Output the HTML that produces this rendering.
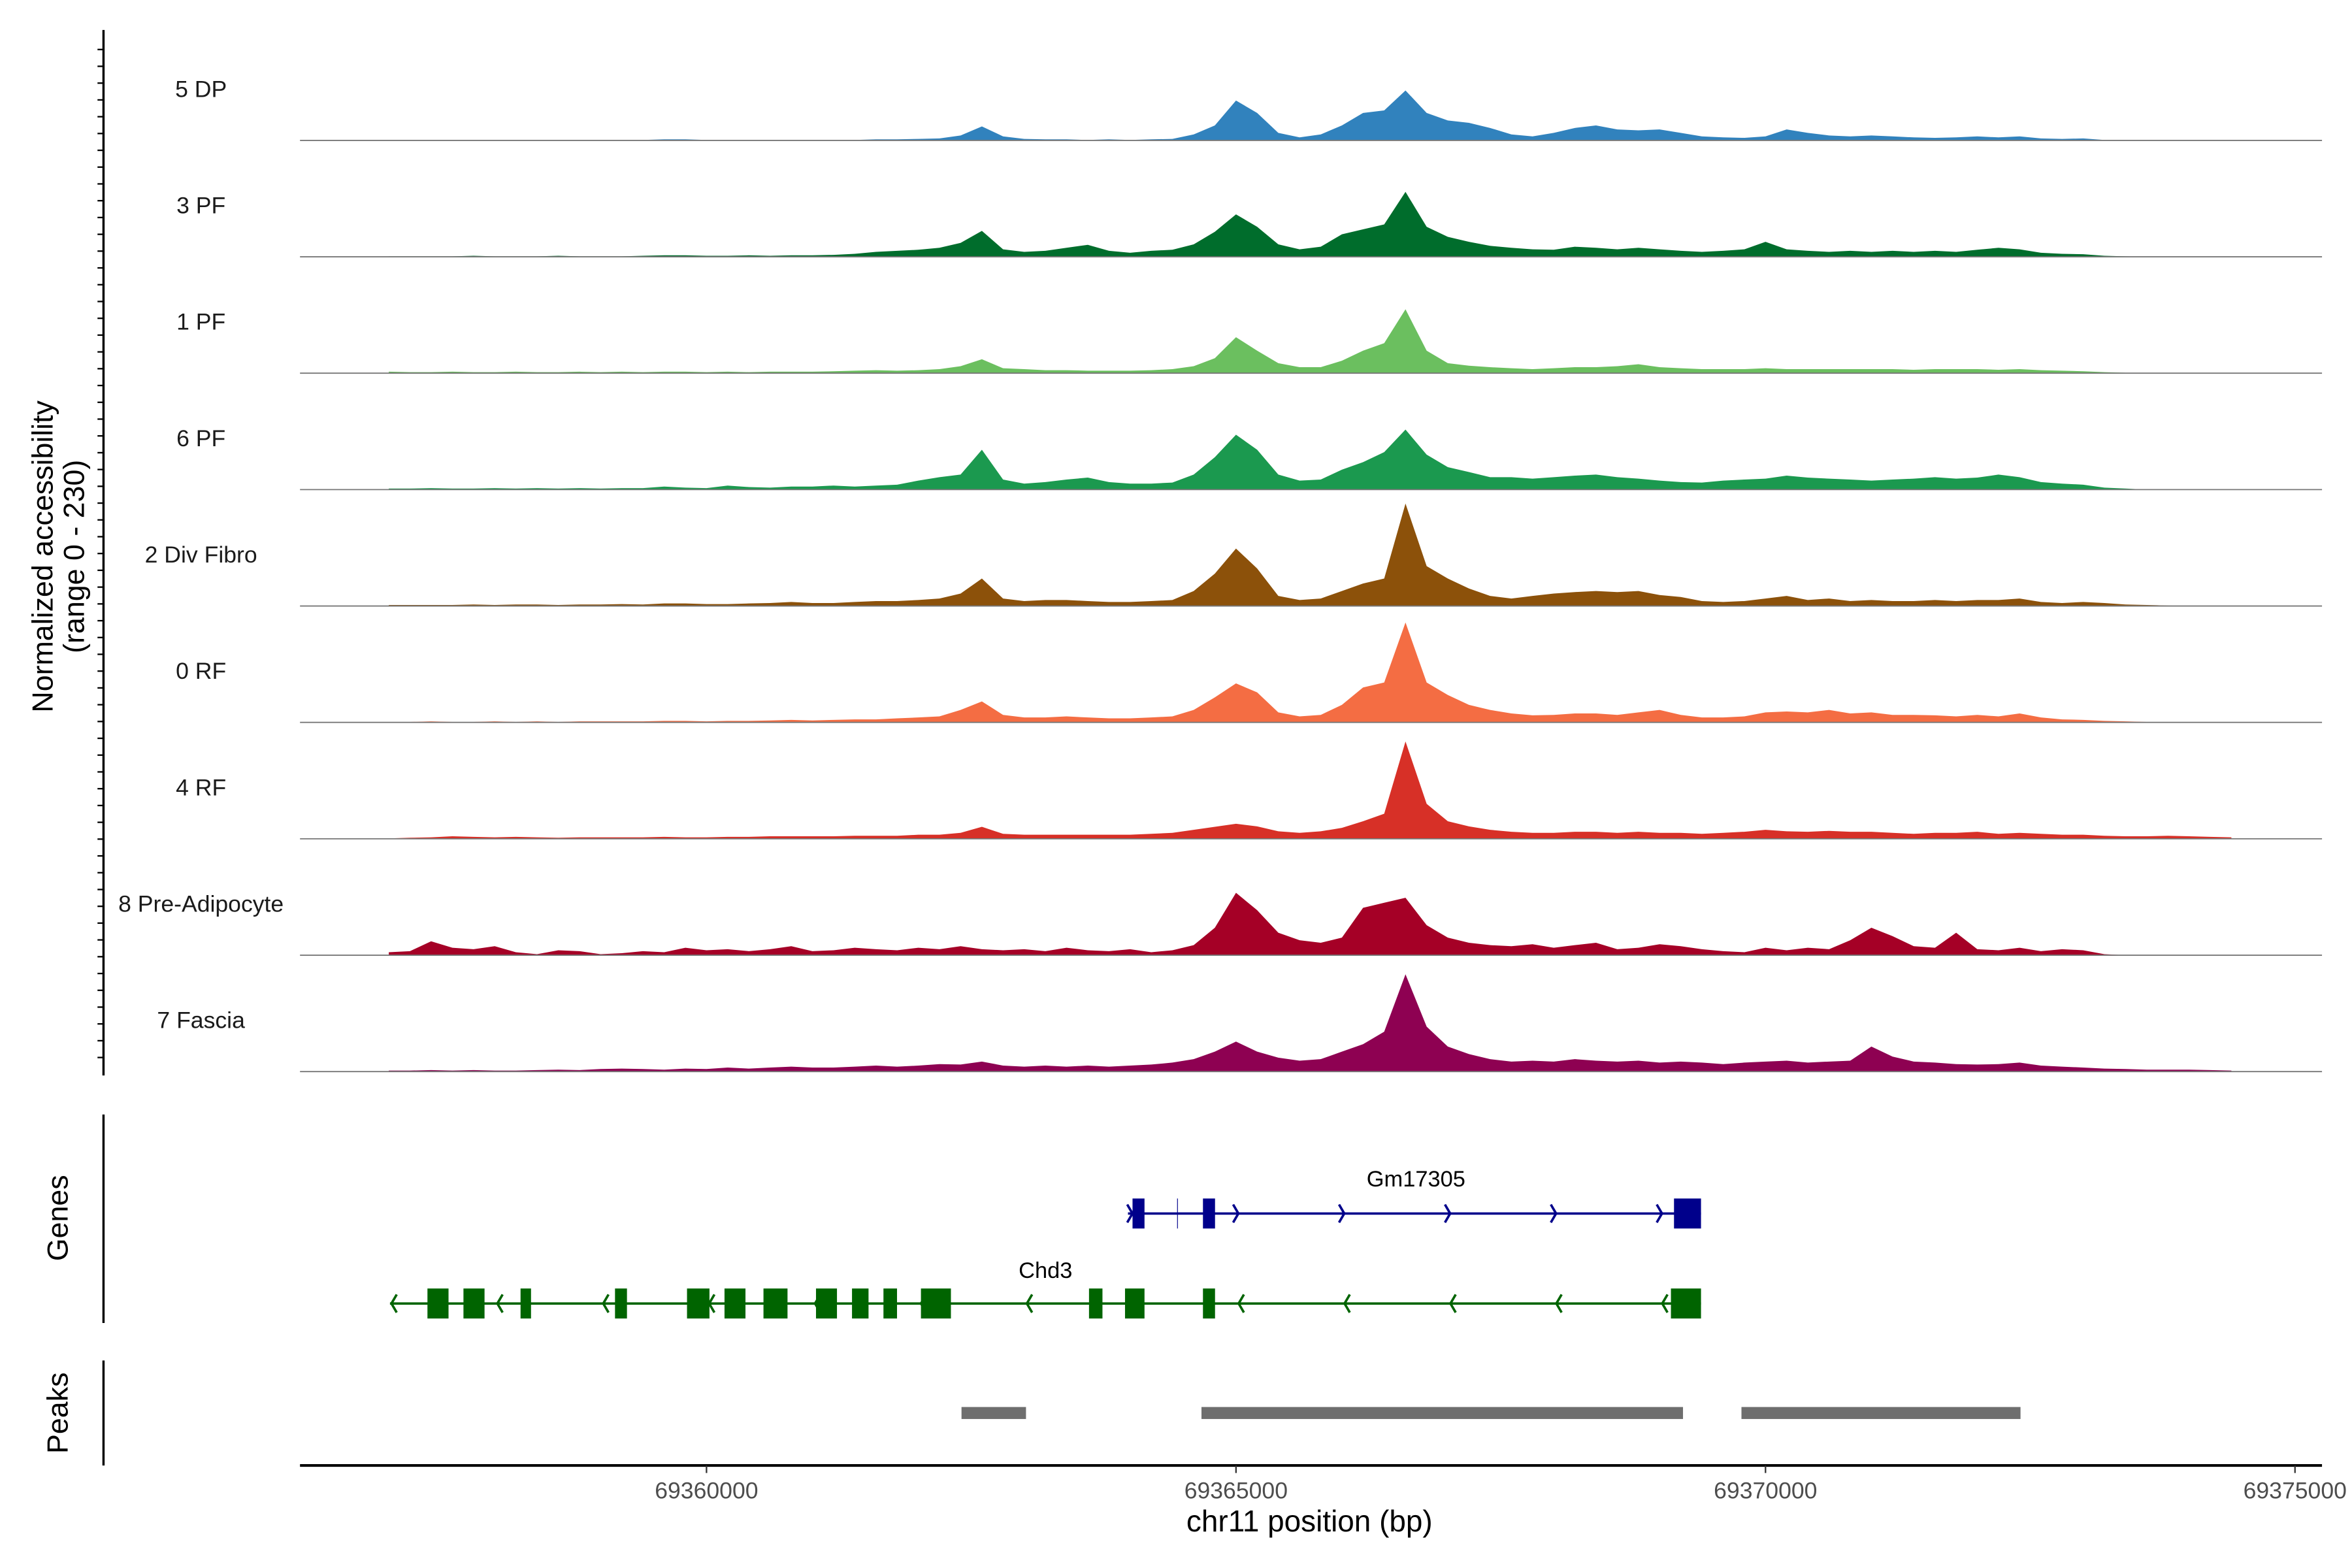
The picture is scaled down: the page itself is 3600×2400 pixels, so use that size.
<!DOCTYPE html>
<html><head><meta charset="utf-8"><style>
html,body{margin:0;padding:0;background:#fff;}
svg{display:block;font-family:"Liberation Sans",sans-serif;}
</style></head><body>
<svg id="chart" width="3600" height="2400" viewBox="0 0 1568 1045.33" xmlns="http://www.w3.org/2000/svg">
<rect width="1568" height="1046" fill="#fff"/>
<g id="tracks"></g>
<g id="genes"></g>
<g id="peaks"></g>
<g id="axes"></g>
</svg>
<script>
const trackNames = ["5 DP","3 PF","1 PF","6 PF","2 Div Fibro","0 RF","4 RF","8 Pre-Adipocyte","7 Fascia"];
const trackColors = ["#3182bd","#006d2c","#6bbf5f","#1b994f","#8c510a","#f46d43","#d73027","#a50026","#8e0152"];
const binStart = 69357000;
const binSize = 200;
const cov5DP = [1,0,1,0,1,0,1,0,1,0, 1,0,1,2,2,1,0,1,0,1, 0,1,1,2,2,3,4,10,28,8, 3,2,2,1,2,1,2,3,12,30, 80,55,15,6,12,30,55,60,100,55, 40,35,25,12,8,15,25,30,22,20, 22,15,8,6,5,8,22,15,10,8, 10,8,6,5,6,8,6,8,4,3, 4,1,0,0,0,0,0,0];
const cov3PF = [1,1,1,1,2,1,1,1,2,1, 1,1,2,3,3,2,2,3,2,3, 3,4,6,10,12,14,18,28,52,15, 10,12,18,24,12,8,12,14,25,50, 85,60,25,15,20,45,55,65,130,60, 40,30,22,18,15,14,20,18,15,18, 15,12,10,12,15,30,15,12,10,12, 10,12,10,12,10,14,18,15,8,6, 5,2,1,0,0,0,0,0];
const cov1PF = [3,2,2,3,2,2,3,2,2,3, 2,3,2,3,3,2,3,2,3,3, 3,4,5,6,5,6,8,14,28,10, 8,6,6,5,5,5,6,8,14,30, 72,45,20,12,12,25,45,60,128,45, 20,15,12,10,8,10,12,12,14,18, 12,10,8,8,8,10,8,8,8,8, 8,8,7,8,8,8,7,8,6,5, 4,2,1,0,0,0,0,0];
const cov6PF = [2,2,3,2,2,3,2,3,2,3, 2,3,3,6,4,3,8,5,4,6, 6,8,6,8,10,18,25,30,80,20, 12,15,20,24,15,12,12,14,30,65, 110,80,30,18,20,40,55,75,120,70, 45,35,25,25,22,25,28,30,25,22, 18,15,14,18,20,22,28,24,22,20, 18,20,22,25,22,24,30,25,15,12, 10,4,2,0,0,0,0,0];
const cov2Div = [2,2,2,2,3,2,3,3,2,3, 3,4,3,5,5,4,4,5,6,8, 6,6,8,10,10,12,15,25,55,15, 10,12,12,10,8,8,10,12,30,65, 115,75,20,12,15,30,45,55,205,80, 55,35,20,15,20,25,28,30,28,30, 22,18,10,8,10,15,20,12,15,10, 12,10,10,12,10,12,12,15,8,6, 8,6,3,2,1,0,0,0];
const cov0RF = [1,1,2,1,1,2,1,2,1,2, 2,2,2,3,3,2,3,3,4,5, 4,5,6,6,8,10,12,25,42,15, 10,10,12,10,8,8,10,12,25,50, 78,60,20,12,15,35,70,80,200,80, 55,35,25,18,14,15,18,18,15,20, 25,15,10,10,12,20,22,20,25,18, 20,15,15,14,12,15,12,18,10,6, 5,3,2,1,0,0,0,0];
const cov4RF = [1,2,3,5,4,3,4,3,2,3, 3,3,3,4,3,3,4,4,5,5, 5,5,6,6,6,8,8,12,24,10, 8,8,8,8,8,8,10,12,18,24, 30,25,15,12,15,22,35,50,195,70, 35,25,18,14,12,12,14,14,12,14, 12,12,10,12,14,18,15,14,16,14, 14,12,10,12,12,14,10,12,10,8, 8,6,5,5,6,5,4,3];
const cov8Pre = [6,8,28,15,12,18,6,2,10,8, 2,4,8,6,15,10,12,8,12,18, 8,10,15,12,10,15,12,18,12,10, 12,8,15,10,8,12,6,10,20,55, 125,90,45,30,25,35,95,105,115,60, 35,25,20,18,22,15,20,25,12,15, 22,18,12,8,6,15,10,15,12,30, 55,38,18,15,45,12,10,15,8,12, 10,2,0,0,0,0,0,0];
const cov7Fas = [2,2,3,2,3,2,2,3,4,3, 5,6,5,4,6,5,8,6,8,10, 8,8,10,12,10,12,15,14,20,12, 10,12,10,12,10,12,14,18,25,40, 60,40,28,22,25,40,55,80,195,90, 50,35,25,20,22,20,25,22,20,22, 18,20,18,15,18,20,22,18,20,22, 50,30,20,18,15,14,15,18,12,10, 8,6,5,4,4,4,3,2];
const coverage = [cov5DP,cov3PF,cov1PF,cov6PF,cov2Div,cov0RF,cov4RF,cov8Pre,cov7Fas];
const yMax = 230;
const xTicks = [69360000,69365000,69370000,69375000];
const gmLine = [69363980,69369391];
const gmExons = [[69364023,69364136],[69364688,69364802],[69369136,69369391]];
const chdLine = [69357011,69369391];
const chdExons = [[69357365,69357564],[69357705,69357904],[69358244,69358343],[69359136,69359249],[69359816,69360028],[69360170,69360368],[69360538,69360765],[69361034,69361232],[69361374,69361530],[69361671,69361799],[69362025,69362308],[69363612,69363739],[69363952,69364136],[69364688,69364802],[69369107,69369391]];
const peakRegions = [[69362408,69363017],[69364674,69369221],[69369773,69372408]];

const NS="http://www.w3.org/2000/svg";
function X(bp){return 471+(bp-69360000)*353/5000;}
const trackTop=17, trackH=77.6, plotL=200, plotR=1548;
function mk(tag,attrs,parent){const e=document.createElementNS(NS,tag);for(const k in attrs)e.setAttribute(k,attrs[k]);parent.appendChild(e);return e;}
const tracks=document.getElementById('tracks');
coverage.forEach((vals,t)=>{
  const base=trackTop+trackH*(t+1)-1;
  const Y=v=>base-v*(trackH-1)/yMax;
  let d=`M${X(binStart).toFixed(1)},${base}`;
  vals.forEach((v,i)=>{d+=` L${X(binStart+i*binSize).toFixed(1)},${Y(v).toFixed(1)}`;});
  d+=` L${X(binStart+(vals.length-1)*binSize).toFixed(1)},${base} Z`;
  const p=mk('path',{d:d,fill:trackColors[t]},tracks);
  
  
  const l=mk('line',{x1:plotL,x2:plotR,y1:base,y2:base,stroke:'#777','stroke-width':0.8},tracks);
  
  
  const tx=mk('text',{x:134,y:base-29,'font-size':15.5,'text-anchor':'middle',fill:'#1a1a1a'},tracks);
  tx.textContent=trackNames[t];
  
  
});
const genes=document.getElementById('genes');
function drawGene(line,exons,y,color,dir,label,lx,ly){
  mk('line',{x1:X(line[0]),x2:X(line[1]),y1:y,y2:y,stroke:color,'stroke-width':1.6},genes);
  const step=70.6;
  for(let x=X(line[0])+2;x<X(line[1]);x+=step){
    const a=mk('polyline',{points:dir>0?`${x-2.5},${y-6} ${x+1},${y} ${x-2.5},${y+6}`:`${x+2.5},${y-6} ${x-1},${y} ${x+2.5},${y+6}`,fill:'none',stroke:color,'stroke-width':1.6},genes);
    
    
  }
  exons.forEach(e=>{
    const r=mk('rect',{x:X(e[0]),y:y-10,width:X(e[1])-X(e[0]),height:20,fill:color},genes);
    
    
  });
  const t=mk('text',{x:lx,y:ly,'font-size':15,'text-anchor':'middle',fill:'#000'},genes);
  t.textContent=label;
  
  
}
drawGene(gmLine,gmExons,809,'#00008b',1,'Gm17305',944,791);
mk('line',{x1:785,x2:785,y1:799,y2:819,stroke:'#00008b','stroke-width':0.5},genes);
drawGene(chdLine,chdExons,869,'#006400',-1,'Chd3',697,852);
const peaks=document.getElementById('peaks');
peakRegions.forEach(r=>{
  const e=mk('rect',{x:X(r[0]),y:938,width:X(r[1])-X(r[0]),height:8,fill:'#6e6e6e'},peaks);
  
  
});
const axes=document.getElementById('axes');
mk('line',{x1:69,x2:69,y1:20,y2:717,stroke:'#000','stroke-width':1.5},axes);
for(let y=33;y<712;y+=11.2){mk('line',{x1:65,x2:69,y1:y,y2:y,stroke:'#000','stroke-width':1},axes);}
mk('line',{x1:69,x2:69,y1:743,y2:882,stroke:'#000','stroke-width':1.5},axes);
mk('line',{x1:69,x2:69,y1:907,y2:977,stroke:'#000','stroke-width':1.5},axes);
mk('line',{x1:200,x2:1548,y1:977,y2:977,stroke:'#000','stroke-width':1.8},axes);
xTicks.forEach(v=>{
  mk('line',{x1:X(v),x2:X(v),y1:977,y2:982,stroke:'#333','stroke-width':1},axes);
  const t=mk('text',{x:X(v),y:999,'font-size':15.5,'text-anchor':'middle',fill:'#4d4d4d'},axes);
  t.textContent=v;
  
  
});
</script>
<svg style="position:absolute;left:0;top:0" width="3600" height="2400" viewBox="0 0 1568 1045.33" xmlns="http://www.w3.org/2000/svg" font-family="Liberation Sans, sans-serif">
<text x="873" y="1021" font-size="20" text-anchor="middle" fill="#000">chr11 position (bp)</text>
<text transform="translate(35,371) rotate(-90)" font-size="19.5" text-anchor="middle" fill="#000">Normalized accessibility</text>
<text transform="translate(56,371) rotate(-90)" font-size="19.5" text-anchor="middle" fill="#000">(range 0 - 230)</text>
<text transform="translate(45,812) rotate(-90)" font-size="19.5" text-anchor="middle" fill="#000">Genes</text>
<text transform="translate(45,942) rotate(-90)" font-size="19.5" text-anchor="middle" fill="#000">Peaks</text>
</svg>
</body></html>
